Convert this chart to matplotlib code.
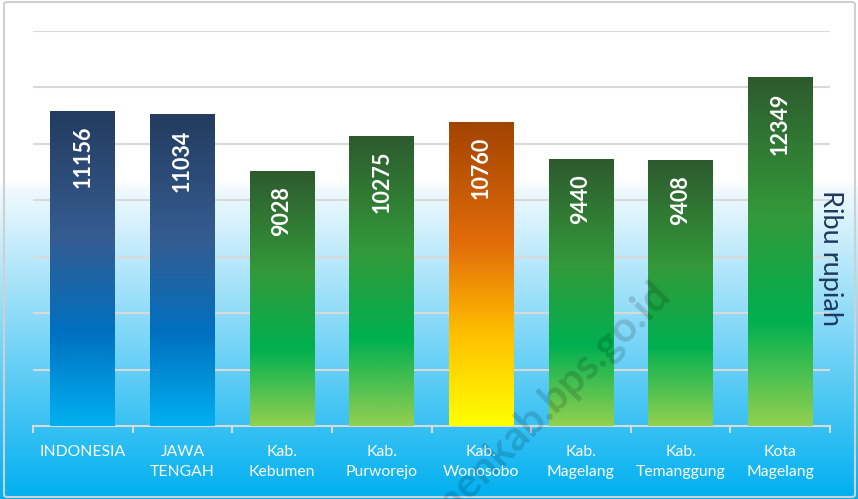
import matplotlib
matplotlib.use("Agg")
import matplotlib.pyplot as plt
import numpy as np
from matplotlib.colors import LinearSegmentedColormap
from matplotlib.patches import FancyBboxPatch

categories = ["INDONESIA", "JAWA\nTENGAH", "Kab.\nKebumen", "Kab.\nPurworejo",
              "Kab.\nWonosobo", "Kab.\nMagelang", "Kab.\nTemanggung", "Kota\nMagelang"]
values = [11156, 11034, 9028, 10275, 10760, 9440, 9408, 12349]
bar_style = ["blue", "blue", "green", "green", "orange", "green", "green", "green"]
y_label = "Ribu rupiah"
watermark = "kebumenkab.bps.go.id"

gradients = {
    "blue": ["#233c5f", "#355c91", "#0070c0", "#00b0f0"],
    "green": ["#2e5a2e", "#339a3a", "#00b050", "#92d050"],
    "orange": ["#a24400", "#e36c0a", "#ffc000", "#ffff00"],
}
stops = [0.0, 0.4, 0.7, 1.0]

W, H, DPI = 858, 499, 100
fig = plt.figure(figsize=(W / DPI, H / DPI), dpi=DPI)

# figure background gradient
bg = fig.add_axes([0, 0, 1, 1], zorder=-10)
bg.set_axis_off()
bg_cmap = LinearSegmentedColormap.from_list(
    "bg", [(0, "#ffffff"), (0.36, "#ffffff"), (0.375, "#f2fafe"), (1.0, "#00b0f0")])
grad = np.linspace(0, 1, 500).reshape(-1, 1)
bg.imshow(grad, cmap=bg_cmap, aspect="auto", extent=[0, 1, 0, 1], origin="upper")
bg.set_xlim(0, 1)
bg.set_ylim(0, 1)
frame = FancyBboxPatch((4 / W, 2 / H), 851 / W, 495 / H,
                       boxstyle="round,pad=0,rounding_size=0.004",
                       transform=fig.transFigure, fill=False, edgecolor="#d0d0d0", lw=1.5)
fig.patches.append(frame)

ax = fig.add_axes([33 / W, 1 - 426 / H, (830 - 33) / W, (426 - 31) / H])
ax.set_facecolor("none")
x = np.arange(len(categories))
bars = ax.bar(x, values, width=0.65, color="none", edgecolor="none", zorder=3)

for b, style in zip(bars, bar_style):
    cmap = LinearSegmentedColormap.from_list(style, list(zip(stops, gradients[style])))
    g = np.linspace(0, 1, 256).reshape(-1, 1)
    ax.imshow(g, cmap=cmap, aspect="auto", origin="upper",
              extent=[b.get_x(), b.get_x() + b.get_width(), 0, b.get_height()], zorder=3)

for xi, v in zip(x, values):
    ax.annotate(f"{v}", (xi, v), xytext=(0, -10.5), textcoords="offset points",
                rotation=90, ha="center", va="top", color="white",
                fontsize=15.5, fontweight="bold", family="Lato", zorder=5)

ax.set_xlim(-0.5, len(categories) - 0.5)
ax.set_ylim(0, 14000)
ax.set_yticks(np.arange(0, 14001, 2000))
ax.yaxis.grid(True, color="#d9d9d9", lw=1.5, zorder=0)
ax.set_axisbelow(True)
ax.tick_params(axis="y", left=False, labelleft=False)
for s in ["top", "right", "left"]:
    ax.spines[s].set_visible(False)
ax.spines["bottom"].set_color("#d9d9d9")
ax.spines["bottom"].set_linewidth(1.5)

ax.set_xticks(np.arange(-0.5, len(categories), 1.0))
ax.set_xticklabels([])
ax.tick_params(axis="x", which="major", length=5, width=1.5, color="#d9d9d9")
ax.set_xticks(x, minor=True)
ax.set_xticklabels(categories, minor=True, color="white", fontsize=11.3,
                   family="Lato", linespacing=1.55)
ax.tick_params(axis="x", which="minor", length=0, pad=14)

fig.text(830 / W, 1 - 258 / H, y_label, rotation=270, ha="center", va="center",
         color="#1f3a60", fontsize=19.5, family="Lato")

fig.text(672 / W, 1 - 296 / H, watermark, rotation=45, rotation_mode="anchor",
         ha="right", va="baseline", color="black", alpha=0.15, fontsize=30,
         fontweight="bold", family="Lato", zorder=10)

fig.savefig("out.png", dpi=DPI)
